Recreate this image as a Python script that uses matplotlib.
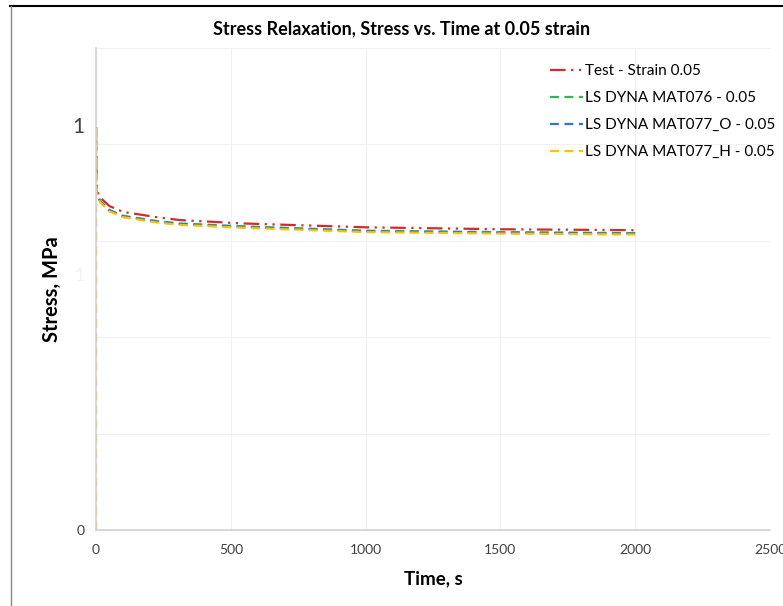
import matplotlib.pyplot as plt

# data
time = [0, 2, 15, 50, 100, 225, 310, 545, 1000, 1500, 2000]
test = [0.836, 0.705, 0.690, 0.672, 0.660, 0.649, 0.643, 0.636, 0.628, 0.624, 0.622]
mat076 = [0.836, 0.700, 0.683, 0.664, 0.652, 0.641, 0.636, 0.630, 0.621, 0.618, 0.616]
mat077_o = [0.836, 0.700, 0.682, 0.663, 0.651, 0.640, 0.635, 0.629, 0.620, 0.617, 0.615]
time_h = [0, 0.5, 2, 15, 50, 100, 225, 310, 545, 1000, 1500, 2000]
mat077_h = [0, 0.836, 0.698, 0.680, 0.661, 0.649, 0.638, 0.633, 0.627, 0.618, 0.615, 0.613]

x_ticks = [0, 500, 1000, 1500, 2000, 2500]
y_grid = [0, 0.2, 0.4, 0.6, 0.8, 1.0]

plt.rcParams['font.family'] = ['Lato', 'DejaVu Sans']

fig = plt.figure(figsize=(7.83, 6.06), dpi=100)
ax = fig.add_axes([0.1226, 0.1254, 0.8608, 0.7954])

ax.plot(time, test, color='#d42a2a', lw=1.6, dashes=(7, 2.5, 1, 2.5, 1, 2.5),
        label='Test - Strain 0.05')
ax.plot(time, mat076, color='#2db84d', lw=1.6, dashes=(4, 2.5),
        label='LS DYNA MAT076 - 0.05')
ax.plot(time, mat077_o, color='#2a7bd0', lw=1.6, dashes=(4, 2.5),
        label='LS DYNA MAT077_O - 0.05')
ax.plot(time_h, mat077_h, color='#ffc000', lw=1.6, dashes=(4, 2.5),
        label='LS DYNA MAT077_H - 0.05')

ax.set_xlim(0, 2500)
ax.set_ylim(0, 1.0)
ax.set_xticks(x_ticks)
ax.set_xticklabels([str(v) for v in x_ticks], fontsize=10, color='#404040')
ax.set_yticks(y_grid, minor=True)
ax.set_yticks([0, 0.53, 0.84])
labels = ax.set_yticklabels(['0', '1', '1'])
labels[0].set_fontsize(10)
labels[0].set_color('#404040')
labels[1].set_fontsize(13)
labels[1].set_color('#f2f2f2')
labels[2].set_fontsize(15)
labels[2].set_color('#404040')
ax.tick_params(axis='both', which='both', length=0, pad=8)
ax.tick_params(axis='x', pad=10)
ax.grid(True, axis='x', color='#f0f0f0', lw=0.8)
ax.grid(True, axis='y', which='minor', color='#f0f0f0', lw=0.8)
ax.set_axisbelow(True)

for side in ['top', 'right']:
    ax.spines[side].set_visible(False)
for side in ['left', 'bottom']:
    ax.spines[side].set_color('#d0d0d0')
    ax.spines[side].set_linewidth(1.2)

fig.text(0.513, 0.952, 'Stress Relaxation, Stress vs. Time at 0.05 strain',
         fontsize=13, fontweight='bold', ha='center', va='center')
ax.set_xlabel('Time, s', fontsize=13.5, fontweight='bold', labelpad=10)
ax.set_ylabel('Stress, MPa', fontsize=14.5, fontweight='bold', labelpad=8)

ax.legend(loc='upper right', bbox_to_anchor=(1.028, 0.995), frameon=False,
          fontsize=11, handlelength=2.2, handletextpad=0.1, labelspacing=0.85)

# frame lines of the original screenshot
fig.add_artist(plt.Line2D([0.013, 1], [0.99, 0.99], color='black', lw=1.5))
fig.add_artist(plt.Line2D([0.014, 0.014], [0, 0.99], color='#888888', lw=1))

fig.savefig('out.png', dpi=100)
